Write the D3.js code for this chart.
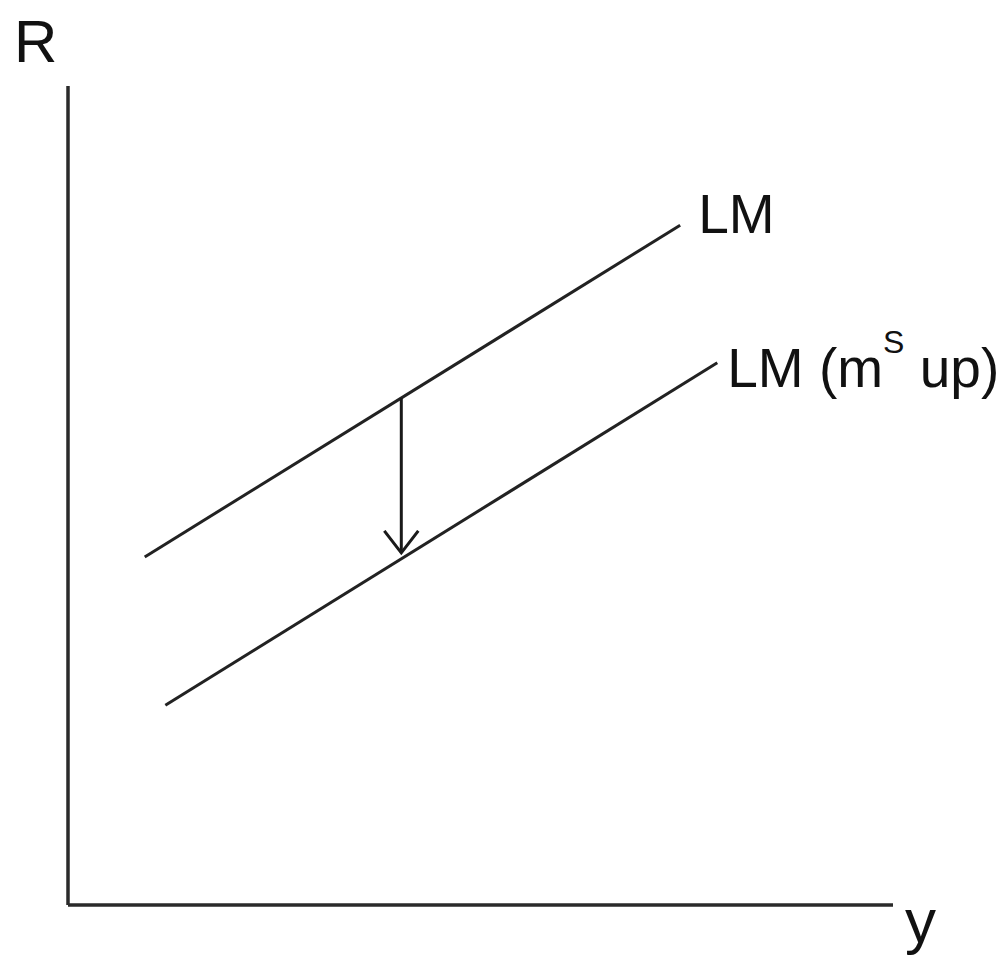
<!DOCTYPE html>
<html>
<head>
<meta charset="utf-8">
<script src="https://cdn.jsdelivr.net/npm/d3@7"></script>
<style>
  body { margin: 0; background: #fff; }
  svg text { font-family: "Liberation Sans", "DejaVu Sans", sans-serif; fill: #111; }
</style>
</head>
<body>
<svg id="chart"></svg>
<script>
// data (abstract units, origin at the axis corner)
const lm = [[9.3, 42.5], [74.2, 83.0]];
const lmUp = [[11.8, 24.4], [78.7, 66.2]];
const shift = [[40.4, 61.9], [40.4, 43.0]];
const axisX = [[0, 0], [100, 0]];
const axisY = [[0, 0], [0, 100]];

const width = 1008, height = 966;
const svg = d3.select("#chart")
    .attr("width", width)
    .attr("height", height);

// scales
const x = d3.scaleLinear().domain([0, 100]).range([68, 893]);
const y = d3.scaleLinear().domain([0, 100]).range([905, 86]);

const line = d3.line()
    .x(d => x(d[0]))
    .y(d => y(d[1]));

// arrow marker (open head)
svg.append("defs").append("marker")
    .attr("id", "head")
    .attr("viewBox", "0 0 26 38")
    .attr("refX", 23)
    .attr("refY", 19)
    .attr("markerWidth", 26)
    .attr("markerHeight", 38)
    .attr("markerUnits", "userSpaceOnUse")
    .attr("orient", "auto")
    .append("path")
    .attr("d", "M1,2 L23,19 L1,36")
    .attr("fill", "none")
    .attr("stroke", "#1a1a1a")
    .attr("stroke-width", 3);

// axes
[axisX, axisY].forEach(a => {
    svg.append("path")
        .attr("d", line(a))
        .attr("stroke", "#2a2a2a")
        .attr("stroke-width", 3.5)
        .attr("fill", "none");
});

// curves
[lm, lmUp].forEach(c => {
    svg.append("path")
        .attr("d", line(c))
        .attr("stroke", "#222")
        .attr("stroke-width", 3)
        .attr("fill", "none");
});

// shift arrow
svg.append("path")
    .attr("d", line(shift))
    .attr("stroke", "#1a1a1a")
    .attr("stroke-width", 3)
    .attr("fill", "none")
    .attr("marker-end", "url(#head)");

// labels
svg.append("text")
    .attr("x", 14)
    .attr("y", 62)
    .attr("font-size", 60)
    .text("R");

svg.append("text")
    .attr("x", 905)
    .attr("y", 942)
    .attr("font-size", 62)
    .text("y");

svg.append("text")
    .attr("x", x(lm[1][0]) + 18)
    .attr("y", y(lm[1][1]) + 8)
    .attr("font-size", 55)
    .text("LM");

const t2 = svg.append("text")
    .attr("x", x(lmUp[1][0]) + 10)
    .attr("y", y(lmUp[1][1]) + 24)
    .attr("font-size", 55);
t2.append("tspan").text("LM (m");
t2.append("tspan").attr("dy", -34).attr("font-size", 32).text("S");
t2.append("tspan").attr("dy", 34).text(" up)");
</script>
</body>
</html>
